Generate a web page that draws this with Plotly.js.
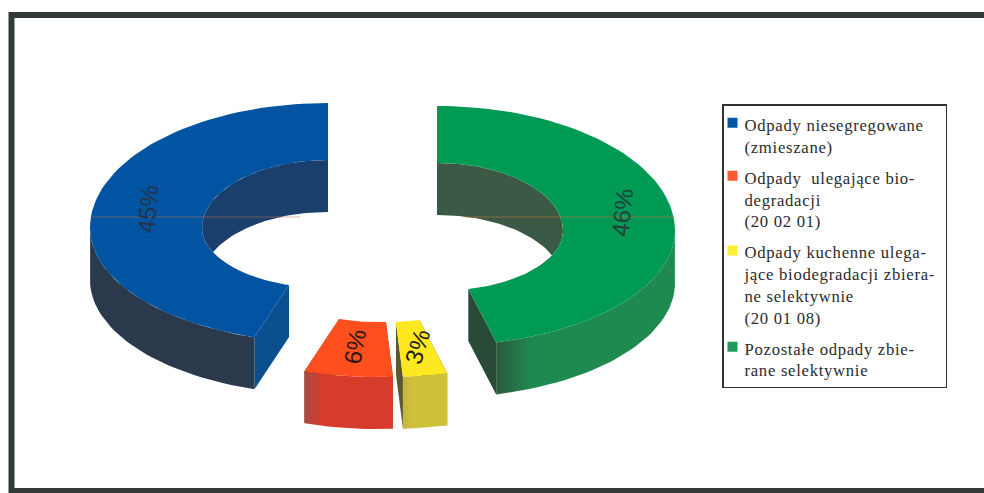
<!DOCTYPE html>
<html>
<head>
<meta charset="utf-8">
<script src="https://cdn.plot.ly/plotly-3.0.1.min.js"></script>
<style>
html,body{margin:0;padding:0;background:#fff}
#chart{width:984px;height:493px}
.legendtext{letter-spacing:.7px;transform:translate(-4px,1.5px)}
.legendsymbols{transform:translate(4px,0)}
</style>
</head>
<body>
<div id="chart"></div>
<script>
// Data
var categories = [
  "Odpady niesegregowane<br>(zmieszane)",
  "Odpady  ulegające bio-<br>degradacji<br>(20 02 01)",
  "Odpady kuchenne ulega-<br>jące biodegradacji zbiera-<br>ne selektywnie<br>(20 01 08)",
  "Pozostałe odpady zbie-<br>rane selektywnie"
];
var values = [45, 6, 3, 46];
var valueLabels = ["45%", "6%", "3%", "46%"];

// Styles
var topColors   = ["#0054a2", "#ff4f1f", "#ffe81f", "#009a54"];
var legendColors= ["#0056a4", "#ff5a32", "#ffee33", "#1f9a5c"];
var wallLeft    = ["#2a3a4c", "#a84a3f", "#c4b53c", "#2b5a40"];
var wallRight   = ["#2a3a4c", "#d63c2c", "#cfc03a", "#1f8a4f"];
var innerWall   = ["#1b3f6c", "#7a3a30", "#5c5a2c", "#3b5a45"];
var cutFace     = ["#0a4f8e", "#7a3a30", "#5c5a2c", "#2a4a38"];
var textColors  = ["#253449", "#2a1a14", "#1a1a10", "#24423a"];
var textAngles  = [-85, -80, -73, -84];
var labelShift  = [[0, -4], [0, -2], [1, -2], [5, -6]];

// Exploded positions of the slices and ring shape, in axis units
var centerX = [328, 378, 388, 437];
var centerY = [228, 262, 262, 231];
var ring = {aOut: 238, bOutBack: 125, bOutFront: 115, aIn: 126, bInBack: 68, bInFront: 60, depth: 52};

function pt(i, deg, outer, drop) {
  var r = deg * Math.PI / 180, s = Math.sin(r), c = Math.cos(r);
  var a = outer ? ring.aOut : ring.aIn;
  var b = c > 0 ? (outer ? ring.bOutBack : ring.bInBack) : (outer ? ring.bOutFront : ring.bInFront);
  return [centerX[i] - a * s, centerY[i] - b * c + (drop || 0)];
}
function arc(a0, a1) {
  var out = [], n = Math.max(2, Math.ceil((a1 - a0) / 2));
  for (var k = 0; k <= n; k++) out.push(a0 + (a1 - a0) * k / n);
  return out;
}
function poly(points, color, gradient) {
  var t = {
    type: "scatter", mode: "lines", x: points.map(function (p) { return p[0]; }),
    y: points.map(function (p) { return p[1]; }), fill: "toself",
    line: {width: 0, color: color}, hoverinfo: "skip", showlegend: false
  };
  if (gradient) {
    t.fillgradient = {type: "horizontal", colorscale: [[0, gradient[0]], [0.2, gradient[1]], [1, gradient[1]]]};
  } else {
    t.fillcolor = color;
  }
  return t;
}

var total = values.reduce(function (s, v) { return s + v; }, 0);
var traces = [], annotations = [], cum = 0;
var order = [0, 3, 1, 2];
var spans = values.map(function (v) { var s = [cum, cum + v / total * 360]; cum = s[1]; return s; });

order.forEach(function (i) {
  var a0 = spans[i][0], a1 = spans[i][1], angs = arc(a0, a1), d = ring.depth;
  // inner wall
  var back = angs.filter(function (g) { return Math.cos(g * Math.PI / 180) > -0.7; });
  if (back.length > 1) {
    var w = back.map(function (g) { return pt(i, g, false, 0); })
      .concat(back.slice().reverse().map(function (g) { return pt(i, g, false, d); }));
    traces.push(poly(w, innerWall[i]));
  }
  // cut faces
  [a0, a1].forEach(function (g) {
    traces.push(poly([pt(i, g, false, 0), pt(i, g, true, 0), pt(i, g, true, d), pt(i, g, false, d)], cutFace[i]));
  });
  // outer wall
  var front = angs.filter(function (g) { return Math.cos(g * Math.PI / 180) <= 0; });
  if (front.length > 1) {
    var o = front.map(function (g) { return pt(i, g, true, 0); })
      .concat(front.slice().reverse().map(function (g) { return pt(i, g, true, d); }));
    traces.push(poly(o, wallRight[i], [wallLeft[i], wallRight[i]]));
  }
  // top face
  var f = angs.map(function (g) { return pt(i, g, true, 0); })
    .concat(angs.slice().reverse().map(function (g) { return pt(i, g, false, 0); }));
  traces.push(poly(f, topColors[i]));
  // label
  var mid = (a0 + a1) / 2, po = pt(i, mid, true, 0), pi_ = pt(i, mid, false, 0);
  annotations.push({
    x: (po[0] + pi_[0]) / 2 + labelShift[i][0], y: (po[1] + pi_[1]) / 2 + labelShift[i][1],
    xref: "x", yref: "y", text: valueLabels[i],
    showarrow: false, textangle: textAngles[i],
    font: {family: "Liberation Sans, Arial, sans-serif", size: 24, color: textColors[i]}
  });
});

// legend entries
categories.forEach(function (name, i) {
  traces.push({
    type: "scatter", mode: "markers", x: [null], y: [null], name: name, legendgroup: "g" + i,
    marker: {symbol: "square", size: 10, color: legendColors[i]}, hoverinfo: "skip"
  });
});

var layout = {
  width: 984, height: 493,
  margin: {l: 0, r: 0, t: 0, b: 0},
  paper_bgcolor: "#ffffff", plot_bgcolor: "#ffffff",
  xaxis: {range: [0, 984], visible: false, fixedrange: true},
  yaxis: {range: [493, 0], visible: false, fixedrange: true},
  showlegend: true,
  legend: {
    x: 722 / 984, y: 1 - 104 / 493, xanchor: "left", yanchor: "top",
    bgcolor: "rgba(255,255,255,0)", bordercolor: "#333333", borderwidth: 1.5,
    font: {family: "Liberation Serif, serif", size: 16.7, color: "#2b2b2b"},
    tracegroupgap: 6.5, valign: "top", indentation: -15, itemwidth: 30,
    traceorder: "grouped"
  },
  annotations: annotations,
  shapes: [
    {type: "rect", xref: "x", yref: "y", x0: 11.5, y0: 15, x1: 1000, y1: 491, line: {color: "#333838", width: 6}, layer: "above"},
    {type: "line", xref: "x", yref: "y", x0: 90, x1: 300, y0: 217, y1: 217, line: {color: "rgba(190,110,90,0.35)", width: 1.5}},
    {type: "line", xref: "x", yref: "y", x0: 465, x1: 675, y0: 217, y1: 217, line: {color: "rgba(190,110,60,0.4)", width: 1.5}}
  ]
};
Plotly.newPlot("chart", traces, layout, {displayModeBar: false, staticPlot: true});
</script>
</body>
</html>
